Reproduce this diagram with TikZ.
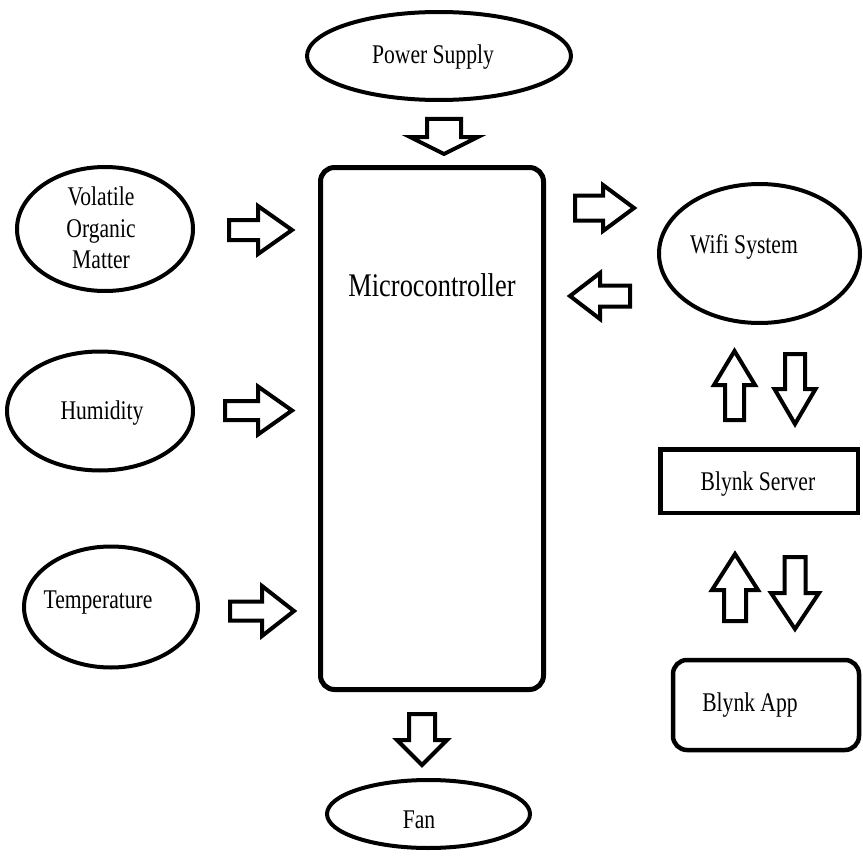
\documentclass[tikz,border=0pt]{standalone}
\usepackage{fontspec}
\setmainfont{Liberation Serif}[FakeStretch=0.8]
\usetikzlibrary{shapes.geometric}
\newcommand\blkH[6]{\draw[barr] ({#4},{#1-#2}) -- ({#5},{#1-#2}) -- ({#5},{#1-#3}) -- ({#6},{#1}) -- ({#5},{#1+#3}) -- ({#5},{#1+#2}) -- ({#4},{#1+#2}) -- cycle;}
\newcommand\blkV[6]{\draw[barr] ({#1-#2},{#4}) -- ({#1-#2},{#5}) -- ({#1-#3},{#5}) -- ({#1},{#6}) -- ({#1+#3},{#5}) -- ({#1+#2},{#5}) -- ({#1+#2},{#4}) -- cycle;}
\begin{document}
\begin{tikzpicture}[x=1pt,y=-1pt,
 ell/.style={draw, ellipse, line width=4pt, inner sep=0pt},
 box/.style={draw, rectangle, line width=4.5pt, inner sep=0pt},
 lbl/.style={font=\fontsize{27}{31.5}\selectfont, align=center, inner sep=0pt},
 barr/.style={draw, line width=4pt, line join=miter, fill=white}]
\useasboundingbox (0,0) rectangle (863,859);
% nodes
\node[ell, minimum width=264pt, minimum height=88pt] (power) at (439,56) {};
\node[lbl] (powert) at (433,57) {Power Supply};
\node[ell, minimum width=176pt, minimum height=124pt] (voc) at (105,229) {};
\node[lbl] (voct) at (101,228) {Volatile\\Organic\\Matter};
\node[ell, minimum width=186pt, minimum height=119pt] (hum) at (100,411) {};
\node[lbl] (humt) at (102,413) {Humidity};
\node[ell, minimum width=174pt, minimum height=121pt] (temp) at (111,607) {};
\node[lbl] (tempt) at (98,603) {Temperature};
\node[draw, rectangle, rounded corners=14pt, line width=5pt, minimum width=223pt, minimum height=522pt] (mc) at (432,428.5) {};
\node[lbl, font=\fontsize{33}{38}\selectfont] (mct) at (432,285) {Microcontroller};
\node[ell, minimum width=203pt, minimum height=68pt] (fan) at (428.5,814) {};
\node[lbl] (fant) at (419,820) {Fan};
\node[ell, minimum width=201pt, minimum height=139pt] (wifi) at (759.5,253.5) {};
\node[lbl] (wifit) at (744,247) {Wifi System};
\node[box, minimum width=197.5pt, minimum height=63.5pt] (server) at (759,481) {};
\node[lbl] (servert) at (758,484) {Blynk Server};
\node[box, rounded corners=14pt, minimum width=186pt, minimum height=90pt] (app) at (766,705) {};
\node[lbl] (appt) at (750,705) {Blynk App};
% block arrows
\blkH{230}{10}{24}{229}{258}{292}
\blkH{410.5}{9.5}{24}{225}{258}{292}
\blkH{611}{9.5}{25}{230}{262}{294}
\blkH{208}{12.5}{23}{575}{603}{634}
\blkH{296}{10.5}{23}{630}{600}{570}
\blkV{444}{17}{34}{119}{137}{154}
\blkV{422}{13}{25}{714}{740}{765}
\blkV{734.5}{9.5}{20.5}{420}{385}{351}
\blkV{795}{10}{20.5}{354}{389}{424}
\blkV{735}{11}{23}{621}{590}{554}
\blkV{795}{10.5}{24}{557}{593}{629}
\end{tikzpicture}
\end{document}
